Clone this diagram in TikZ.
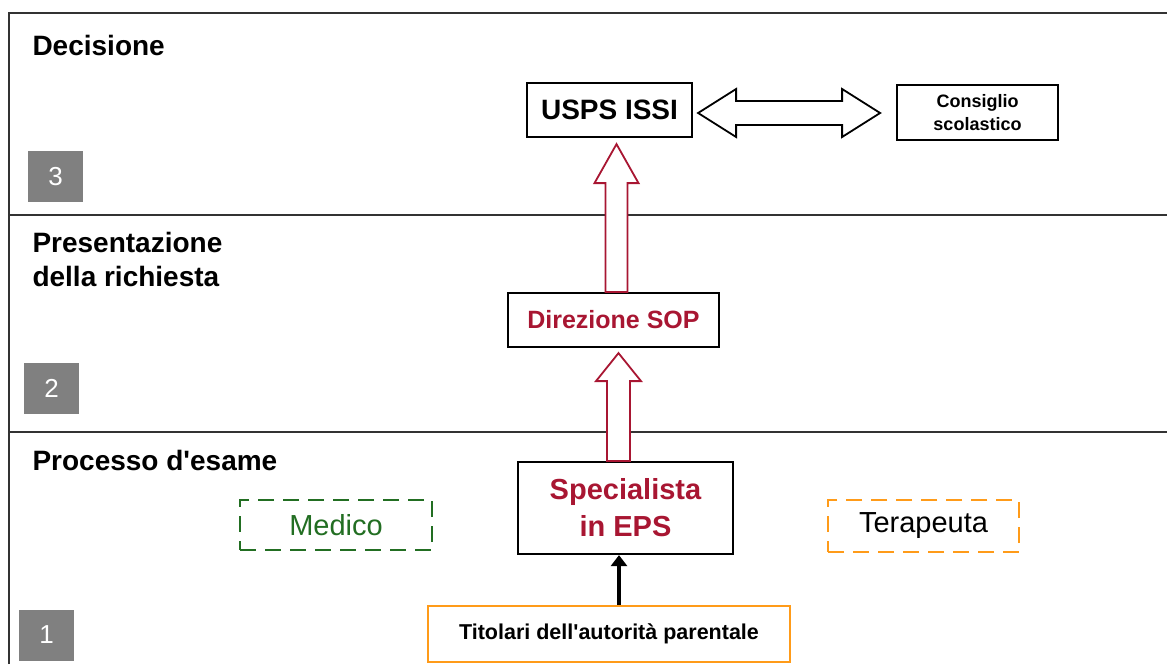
\documentclass[tikz,border=0pt]{standalone}
\usepackage{fontspec}
\setmainfont{Liberation Sans}
\usetikzlibrary{calc,arrows.meta}

\definecolor{eps}{RGB}{168,22,50}
\definecolor{medgreen}{RGB}{34,110,34}
\definecolor{terorange}{RGB}{255,155,25}
\definecolor{numgray}{RGB}{128,128,128}

\begin{document}
\begin{tikzpicture}[x=1pt,y=-1pt,
  frame/.style={line width=2pt, black!80},
  title/.style={anchor=base west, align=left, font=\fontsize{28}{34}\selectfont\bfseries},
  numbox/.style={fill=numgray, text=white, minimum width=55, minimum height=51,
    inner sep=0pt, font=\fontsize{26}{26}\selectfont},
  box/.style={draw, line width=2.2pt, inner sep=0pt, align=center},
  dashbox/.style={draw, line width=2pt, dash pattern=on 16pt off 9pt, inner sep=0pt},
  redarrow/.style={draw=eps, line width=1.8pt, fill=white, line join=miter},
  openarrow/.style={draw=black, line width=1.8pt, fill=white, line join=miter}]
  \useasboundingbox (0,0) rectangle (1167,664);

  % stages
  \draw[frame] (9,664) -- (9,13) -- (1167,13);
  \draw[frame] (9,215) -- (1167,215);
  \draw[frame] (9,432) -- (1167,432);

  \node[title] (t3) at (29,55) {Decisione};
  \node[title] (t2) at (29,286) {Presentazione\\della richiesta};
  \node[title] (t1) at (29,470) {Processo d\textquotesingle esame};

  \node[numbox] (n3) at (55.5,176.5) {3};
  \node[numbox] (n2) at (51.5,388) {2};
  \node[numbox] (n1) at (46.5,635) {1};

  % boxes
  \node[box, minimum width=165, minimum height=54,
    font=\fontsize{28}{28}\selectfont\bfseries] (usps) at (609.5,110) {USPS ISSI};
  \node[box, line width=1.8pt, minimum width=161, minimum height=55,
    font=\fontsize{18}{23}\selectfont\bfseries] (cons) at (977.5,112.5) {Consiglio\\scolastico};
  \node[box, minimum width=211, minimum height=54, text=eps,
    font=\fontsize{25}{25}\selectfont\bfseries] (dir) at (613.5,320) {Direzione SOP};
  \node[box, minimum width=215, minimum height=92, text=eps,
    font=\fontsize{29}{37}\selectfont\bfseries] (spec) at (625.5,508) {Specialista\\in EPS};
  \node[box, draw=terorange, minimum width=362, minimum height=56,
    font=\fontsize{21.5}{21.5}\selectfont\bfseries] (tit) at (609,634) {Titolari dell\textquotesingle autorit\`a parentale};
  \node[dashbox, draw=medgreen, text=medgreen, minimum width=192, minimum height=50,
    font=\fontsize{29}{29}\selectfont] (med) at (336,525) {Medico};
  \node[dashbox, draw=terorange, minimum width=191, minimum height=52,
    font=\fontsize{29}{29}\selectfont] (ter) at (923.5,526) {Terapeuta};

  % arrows
  \coordinate (a1) at ($(usps.south)+(7,6)$);
  \coordinate (a1b) at (a1 |- dir.north);
  \draw[redarrow] ($(a1b)+(-11,0)$) -- ($(a1)+(-11,39)$) -- ($(a1)+(-22,39)$) -- (a1)
    -- ($(a1)+(22,39)$) -- ($(a1)+(11,39)$) -- ($(a1b)+(11,0)$) -- cycle;

  \coordinate (a2) at ($(dir.south)+(5,5)$);
  \coordinate (a2b) at (a2 |- spec.north);
  \draw[redarrow] ($(a2b)+(-11.5,0)$) -- ($(a2)+(-11.5,28)$) -- ($(a2)+(-22.5,28)$) -- (a2)
    -- ($(a2)+(22.5,28)$) -- ($(a2)+(11.5,28)$) -- ($(a2b)+(11.5,0)$) -- cycle;

  \coordinate (dl) at ($(usps.east)+(5,3)$);
  \coordinate (dr) at ($(dl -| cons.west)+(-16,0)$);
  \draw[openarrow] (dl) -- ($(dl)+(38,-24)$) -- ($(dl)+(38,-12)$) -- ($(dr)+(-38,-12)$)
    -- ($(dr)+(-38,-24)$) -- (dr) -- ($(dr)+(-38,24)$) -- ($(dr)+(-38,12)$)
    -- ($(dl)+(38,12)$) -- ($(dl)+(38,24)$) -- cycle;

  \coordinate (b0) at ($(tit.north)+(10,0)$);
  \draw[line width=4.5pt, -{Triangle[length=11pt,width=16pt]}] (b0) -- (b0 |- spec.south);
\end{tikzpicture}
\end{document}
